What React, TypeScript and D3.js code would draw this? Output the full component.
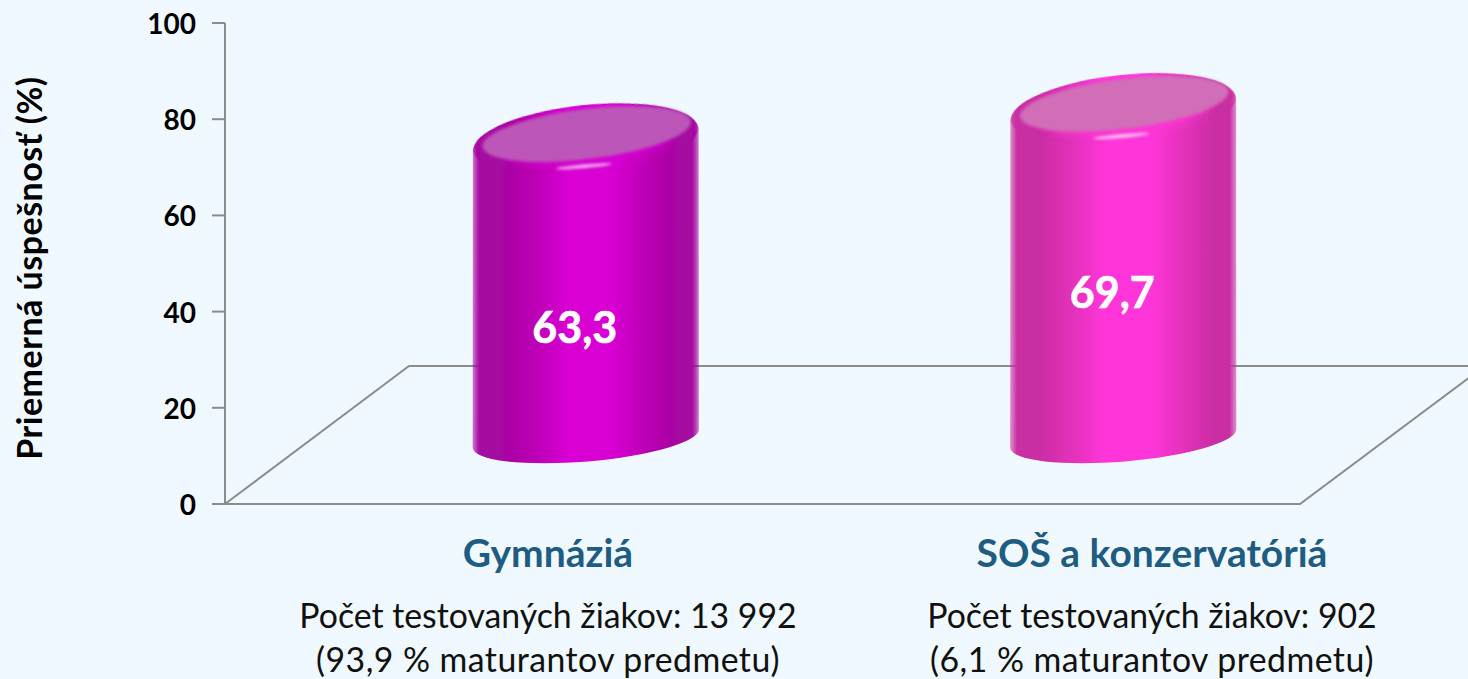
import * as d3 from 'd3';

const categories = ['Gymnáziá', 'SOŠ a konzervatóriá'];
const values = [63.3, 69.7];
const valueLabels = ['63,3', '69,7'];
const countLines = ['Počet testovaných žiakov: 13 992', 'Počet testovaných žiakov: 902'];
const shareLines = ['(93,9 % maturantov predmetu)', '(6,1 % maturantov predmetu)'];
const yTicks = [0, 20, 40, 60, 80, 100];

const bodyDark = ['#a507a0', '#c92ea2'];
const bodyMid = ['#bd02b6', '#e430bc'];
const bodyBright = ['#d800d3', '#ff36da'];
const rimLight = ['#d400ce', '#fb34d2'];
const faceColor = ['#bc57b8', '#d26db8'];
const captionX = [548, 1152];
const labelOffset = [203, 198];

const FONT = 'Lato, Carlito, sans-serif';
const width = 1468;
const height = 679;
const depthX = 184;
const depthY = 138;
const barScale = 0.98; // bars stand further back, so they come out a bit shorter than the axis
const floorRight = 1300;
const lineColor = '#8c8c8c';

const y = d3.scaleLinear().domain([0, 100]).range([504, 23]);
const x = d3.scaleBand<string>().domain(categories).range([225, floorRight]);

const rx = 113.5;
const topRy = 32;
const bottomRy = 23;
const topTilt = 6;
const bottomTilt = 4.8;

function rad(a: number) {
  return (a * Math.PI) / 180;
}

function cylinderBody(cx: number, topY: number, baseY: number) {
  const tx = rx * Math.cos(rad(topTilt));
  const ty = rx * Math.sin(rad(topTilt));
  const bx = rx * Math.cos(rad(bottomTilt));
  const by = rx * Math.sin(rad(bottomTilt));
  return [
    `M${cx - tx},${topY + ty}`,
    `L${cx - bx},${baseY + by}`,
    `A${rx},${bottomRy} ${-bottomTilt} 0 0 ${cx + bx},${baseY - by}`,
    `L${cx + tx},${topY - ty}`,
    `A${rx},${topRy} ${-topTilt} 0 0 ${cx - tx},${topY + ty}`,
    'Z',
  ].join(' ');
}

export default function App() {
  const floorBack = d3.line()([
    [225, y(0)],
    [225 + depthX, y(0) - depthY],
    [width + 4, y(0) - depthY],
  ]);
  const floorFront = d3.line()([
    [225, y(0)],
    [floorRight, y(0)],
    [floorRight + 170, y(0) - 127],
  ]);

  return (
    <div style={{ position: 'absolute', left: 0, top: 0, width, height, overflow: 'hidden' }}>
      <svg width={width} height={height} style={{ display: 'block' }} fontFamily={FONT}>
        <defs>
          <filter id="glow" x="-30%" y="-400%" width="160%" height="900%">
            <feGaussianBlur stdDeviation="1.6" />
          </filter>
          <filter id="softer" x="-10%" y="-60%" width="120%" height="220%">
            <feGaussianBlur stdDeviation="1.6" />
          </filter>
          <filter id="band" x="-10%" y="-60%" width="120%" height="220%">
            <feGaussianBlur stdDeviation="4" />
          </filter>
          <filter id="edge" x="-10%" y="-60%" width="120%" height="220%">
            <feGaussianBlur stdDeviation="0.7" />
          </filter>
          {categories.map((c, i) => (
            <linearGradient id={`body${i}`} key={c} x1="0" x2="1" y1="0" y2="0">
              <stop offset="0" stopColor={bodyDark[i]} stopOpacity={0.5} />
              <stop offset="0.03" stopColor={bodyDark[i]} />
              <stop offset="0.12" stopColor={bodyDark[i]} />
              <stop offset="0.28" stopColor={bodyMid[i]} />
              <stop offset="0.42" stopColor={bodyBright[i]} />
              <stop offset="0.62" stopColor={bodyBright[i]} />
              <stop offset="0.76" stopColor={bodyMid[i]} />
              <stop offset="0.91" stopColor={bodyDark[i]} />
              <stop offset="0.97" stopColor={bodyDark[i]} />
              <stop offset="1" stopColor={bodyDark[i]} stopOpacity={0.5} />
            </linearGradient>
          ))}
        </defs>

        <rect width={width} height={height} fill="#f0f9ff" />

        <path d={floorBack ?? ''} fill="none" stroke={lineColor} strokeWidth={2} />
        <path d={floorFront ?? ''} fill="none" stroke={lineColor} strokeWidth={2} />
        <line x1={225} x2={225} y1={y(100)} y2={y(0)} stroke={lineColor} strokeWidth={2} />

        {yTicks.map((t) => (
          <g key={t}>
            <line x1={212} x2={225} y1={y(t)} y2={y(t)} stroke={lineColor} strokeWidth={2} />
            <text x={196} y={y(t) + 11} textAnchor="end" fontSize={28} fontWeight={700} fill="#000">
              {t}
            </text>
          </g>
        ))}

        <text
          transform="translate(42,268) rotate(-90)"
          textAnchor="middle"
          fontSize={34}
          letterSpacing={0.5}
          fontWeight={700}
          fill="#000"
        >
          Priemerná úspešnosť (%)
        </text>

        {categories.map((c, i) => {
          const cx = (x(c) ?? 0) + x.bandwidth() / 2 + depthX / 2;
          const baseY = y(0) - 65.5;
          const barH = (y(0) - y(values[i])) * barScale;
          const topY = baseY - barH;
          return (
            <g key={c}>
              <path d={cylinderBody(cx, topY, baseY)} fill={`url(#body${i})`} filter="url(#edge)" />
              {/* bevel round the top of the cylinder */}
              <ellipse
                cx={cx}
                cy={topY - 1}
                rx={rx - 0.5}
                ry={topRy + 2}
                transform={`rotate(${-topTilt} ${cx} ${topY})`}
                fill={`url(#body${i})`}
                filter="url(#edge)"
              />
              <ellipse
                cx={cx + 2}
                cy={topY + 4}
                rx={84}
                ry={21}
                transform={`rotate(${-topTilt} ${cx} ${topY})`}
                fill={rimLight[i]}
                opacity={0.8}
                filter="url(#band)"
              />
              <ellipse
                cx={cx + 1}
                cy={topY - 6}
                rx={105}
                ry={25}
                transform={`rotate(${-topTilt - 1} ${cx} ${topY - 6})`}
                fill={faceColor[i]}
                filter="url(#softer)"
              />
              <ellipse
                cx={cx - 2}
                cy={topY + 26}
                rx={28}
                ry={1.6}
                transform={`rotate(-5 ${cx} ${topY + 26})`}
                fill="#ffffff"
                opacity={0.8}
                filter="url(#glow)"
              />
              <text
                x={cx - 11}
                y={topY + labelOffset[i]}
                textAnchor="middle"
                fontSize={43}
                fontWeight={700}
                fill="#fff"
                stroke="#fff"
                strokeWidth={0.6}
              >
                {valueLabels[i]}
              </text>
              <text
                x={captionX[i]}
                y={567}
                textAnchor="middle"
                fontSize={39}
                fontWeight={700}
                fill="#1f5c82"
              >
                {c}
              </text>
              <text x={captionX[i]} y={628} textAnchor="middle" fontSize={33.8} fill="#111">
                {countLines[i]}
              </text>
              <text
                x={captionX[i]}
                y={672}
                textAnchor="middle"
                fontSize={33.8}
                letterSpacing={0.45}
                fill="#111"
              >
                {shareLines[i]}
              </text>
            </g>
          );
        })}
      </svg>
    </div>
  );
}
